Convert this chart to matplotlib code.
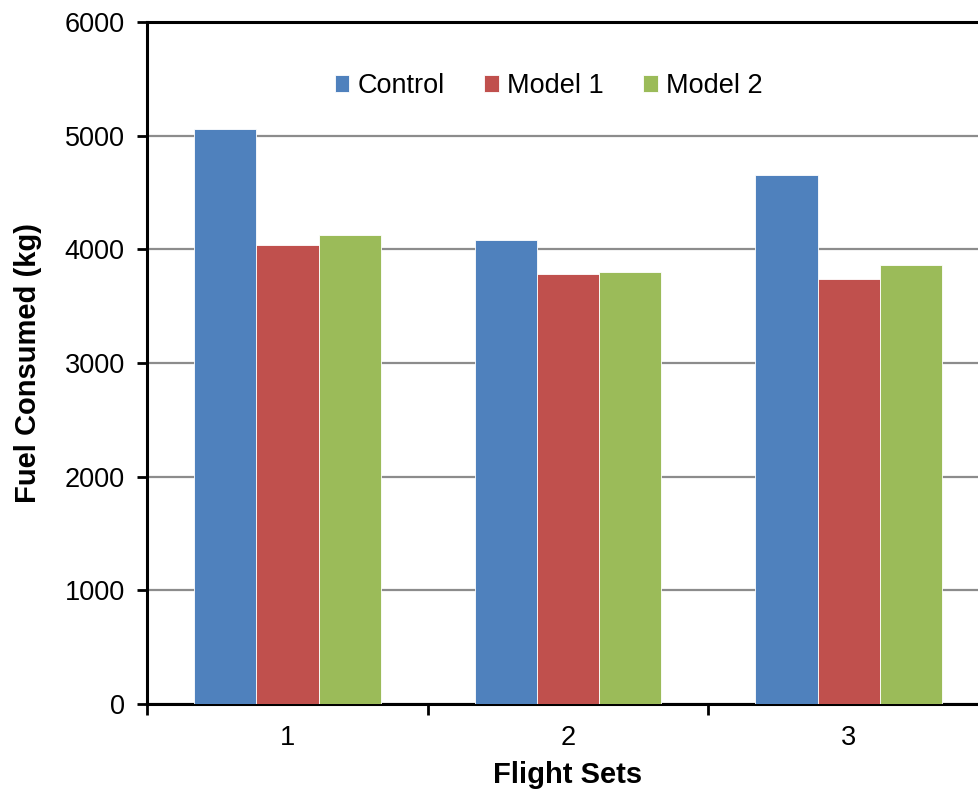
import numpy as np
import matplotlib.pyplot as plt

plt.rcParams['font.family'] = ['Liberation Sans', 'DejaVu Sans']

flight_sets = ['1', '2', '3']
series_names = ['Control', 'Model 1', 'Model 2']
control = [5060, 4080, 4650]
model_1 = [4040, 3780, 3740]
model_2 = [4130, 3800, 3860]
colors = ['#4F81BD', '#C0504D', '#9BBB59']

fig = plt.figure(figsize=(9.79, 7.89), dpi=100)
# axes run slightly past the right edge of the figure
ax = fig.add_axes([0.1502, 0.1077, 0.860, 0.8644])

x = np.arange(len(flight_sets))
width = 0.222
for i, (vals, name) in enumerate(zip([control, model_1, model_2], series_names)):
    ax.bar(x + (i - 1) * width, vals, width, color=colors[i], label=name,
           edgecolor='white', linewidth=0.6, zorder=3)

ax.set_xlim(-0.5, 2.5)
ax.set_ylim(0, 6000)
ax.set_yticks(np.arange(0, 6001, 1000))
ax.yaxis.grid(True, color='#8c8c8c', linewidth=1.6, zorder=0)

# tick marks sit between groups, labels under group centres
ax.set_xticks([-0.5, 0.5, 1.5, 2.5])
ax.set_xticklabels([])
ax.set_xticks(x, minor=True)
ax.set_xticklabels(flight_sets, minor=True)
ax.tick_params(axis='x', which='major', direction='out', length=8, width=2)
ax.tick_params(axis='x', which='minor', length=0, pad=15, labelsize=19.5)
ax.tick_params(axis='y', direction='out', length=7, width=2, labelsize=19.5, pad=9)

for side in ['left', 'bottom', 'top']:
    ax.spines[side].set_linewidth(2.2)
    ax.spines[side].set_color('black')
ax.spines['right'].set_visible(False)

ax.set_xlabel('Flight Sets', fontsize=21, fontweight='bold', labelpad=7)
ax.set_ylabel('Fuel Consumed (kg)', fontsize=21, fontweight='bold', labelpad=16)

ax.legend(loc='center', bbox_to_anchor=(0.477, 0.906), ncol=3, frameon=False,
          fontsize=19.5, handlelength=0.55, handleheight=0.55, handletextpad=0.3,
          columnspacing=1.45)

fig.savefig('out.png', dpi=100)
